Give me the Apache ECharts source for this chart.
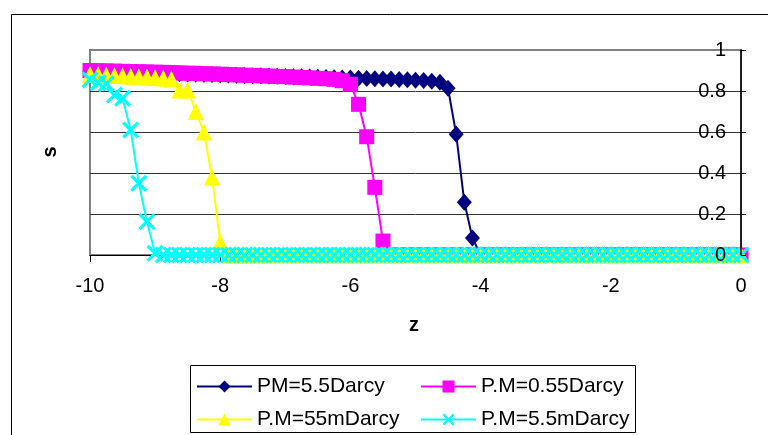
<!DOCTYPE html>
<html>
<head>
<meta charset="utf-8">
<script src="https://cdn.jsdelivr.net/npm/echarts@6/dist/echarts.min.js"></script>
<style>
html,body{margin:0;padding:0;background:#fff;}
#c{width:768px;height:435px;}
</style>
</head>
<body>
<div id="c"></div>
<script>
// z positions
var zValues = [
  -10,-9.875,-9.75,-9.625,-9.5,-9.375,-9.25,-9.125,-9,
  -8.875,-8.75,-8.625,-8.5,-8.375,-8.25,-8.125,-8,
  -7.875,-7.75,-7.625,-7.5,-7.375,-7.25,-7.125,-7,
  -6.875,-6.75,-6.625,-6.5,-6.375,-6.25,-6.125,-6,
  -5.875,-5.75,-5.625,-5.5,-5.375,-5.25,-5.125,-5,
  -4.875,-4.75,-4.625,-4.5,-4.375,-4.25,-4.125,-4,
  -3.875,-3.75,-3.625,-3.5,-3.375,-3.25,-3.125,-3,
  -2.875,-2.75,-2.625,-2.5,-2.375,-2.25,-2.125,-2,
  -1.875,-1.75,-1.625,-1.5,-1.375,-1.25,-1.125,-1,
  -0.875,-0.75,-0.625,-0.5,-0.375,-0.25,-0.125,0
];

var seriesNames = ['PM=5.5Darcy','P.M=0.55Darcy','P.M=55mDarcy','P.M=5.5mDarcy'];

var sPM55Darcy = [
  0.895,0.894,0.893,0.892,0.891,0.890,0.889,0.888,0.887,
  0.886,0.885,0.884,0.883,0.882,0.881,0.880,0.879,
  0.878,0.877,0.876,0.875,0.874,0.873,0.872,0.871,
  0.870,0.869,0.868,0.867,0.866,0.865,0.864,0.863,
  0.862,0.861,0.860,0.859,0.858,0.856,0.855,0.853,
  0.851,0.848,0.843,0.813,0.589,0.257,0.083,0,
  0,0,0,0,0,0,0,0,
  0,0,0,0,0,0,0,0,
  0,0,0,0,0,0,0,0,
  0,0,0,0,0,0,0,0
];

var sPM055Darcy = [
  0.900,0.899,0.898,0.897,0.896,0.895,0.894,0.893,0.892,
  0.891,0.890,0.888,0.887,0.886,0.884,0.883,0.882,
  0.880,0.879,0.877,0.876,0.874,0.873,0.871,0.870,
  0.868,0.866,0.864,0.862,0.860,0.857,0.850,0.833,
  0.735,0.577,0.330,0.068,0,0,0,0,
  0,0,0,0,0,0,0,0,
  0,0,0,0,0,0,0,0,
  0,0,0,0,0,0,0,0,
  0,0,0,0,0,0,0,0,
  0,0,0,0,0,0,0,0
];

var sPM55mDarcy = [
  0.882,0.880,0.878,0.876,0.874,0.872,0.870,0.868,0.866,
  0.863,0.858,0.805,0.805,0.700,0.600,0.380,0.065,
  0,0,0,0,0,0,0,0,
  0,0,0,0,0,0,0,0,
  0,0,0,0,0,0,0,0,
  0,0,0,0,0,0,0,0,
  0,0,0,0,0,0,0,0,
  0,0,0,0,0,0,0,0,
  0,0,0,0,0,0,0,0,
  0,0,0,0,0,0,0,0
];

var sPM55mDarcyB = [
  0.855,0.840,0.835,0.780,0.765,0.610,0.350,0.163,0.008,
  0,0,0,0,0,0,0,0,
  0,0,0,0,0,0,0,0,
  0,0,0,0,0,0,0,0,
  0,0,0,0,0,0,0,0,
  0,0,0,0,0,0,0,0,
  0,0,0,0,0,0,0,0,
  0,0,0,0,0,0,0,0,
  0,0,0,0,0,0,0,0,
  0,0,0,0,0,0,0,0
];

var xTicks = [-10,-8,-6,-4,-2,0];
var yTicks = [0,0.2,0.4,0.6,0.8,1];

var FONT = 'Liberation Sans, Arial, sans-serif';

function pairs(ys){ return zValues.map(function(z,i){ return [z, ys[i]]; }); }

var crossPath = 'path://M0,1.3L1.3,0L5,3.7L8.7,0L10,1.3L6.3,5L10,8.7L8.7,10L5,6.3L1.3,10L0,8.7L3.7,5Z';

var seriesDefs = [
  {name: seriesNames[0], data: sPM55Darcy, color: '#000080', symbol: 'diamond', size: [15,17]},
  {name: seriesNames[1], data: sPM055Darcy, color: '#FF00FF', symbol: 'rect', size: 15},
  {name: seriesNames[2], data: sPM55mDarcy, color: '#FFFF00', symbol: 'triangle', size: [16,17]},
  {name: seriesNames[3], data: sPM55mDarcyB, color: '#00FFFF', symbol: crossPath, size: 17}
];

var chart = echarts.init(document.getElementById('c'), null, {renderer: 'canvas'});

var legendPos = [
  {left: 196, top: 376},
  {left: 420, top: 376},
  {left: 196, top: 409},
  {left: 420, top: 409}
];

var yAxisBase = {
  type: 'value', position: 'right', min: yTicks[0], max: yTicks[yTicks.length-1], interval: 0.2
};

chart.setOption({
  animation: false,
  backgroundColor: '#fff',
  grid: {
    left: 90, right: 27, top: 50, bottom: 180,
    show: true, borderColor: '#808080', borderWidth: 2, backgroundColor: 'transparent'
  },
  xAxis: {
    type: 'value', min: xTicks[0], max: xTicks[xTicks.length-1], interval: 2,
    axisLine: {show: true, onZero: false, lineStyle: {color: '#000', width: 1}},
    axisTick: {show: true, inside: false, length: 7, lineStyle: {color: '#000'}},
    axisLabel: {color: '#000', fontSize: 20, fontFamily: FONT, margin: 21},
    splitLine: {show: false}
  },
  yAxis: [
    Object.assign({}, yAxisBase, {
      z: 0,
      axisLine: {show: false}, axisTick: {show: false}, axisLabel: {show: false},
      splitLine: {show: true, showMaxLine: false, showMinLine: false, lineStyle: {color: '#333', width: 1}}
    }),
    Object.assign({}, yAxisBase, {
      z: 10,
      axisLine: {show: true, lineStyle: {color: '#000', width: 1.5}},
      axisTick: {show: true, inside: false, length: 5, lineStyle: {color: '#000'}},
      axisLabel: {inside: true, color: '#000', fontSize: 20, fontFamily: FONT, margin: 15},
      splitLine: {show: false}
    })
  ],
  legend: seriesDefs.map(function(s, i){
    return {
      data: [s.name], left: legendPos[i].left, top: legendPos[i].top,
      orient: 'horizontal', padding: 0, itemWidth: 55, itemHeight: 15, itemGap: 0,
      textStyle: {color: '#000', fontSize: 21, fontFamily: FONT},
      selectedMode: false
    };
  }),
  series: seriesDefs.map(function(s){
    return {
      name: s.name, type: 'line', data: pairs(s.data), yAxisIndex: 0,
      symbol: s.symbol, symbolSize: s.size, showAllSymbol: true,
      lineStyle: {color: s.color, width: 2},
      itemStyle: {color: s.color},
      clip: false
    };
  }),
  graphic: [
    {type: 'rect', shape: {x: 11.5, y: 14.5, width: 900, height: 600},
     style: {fill: 'none', stroke: '#000', lineWidth: 1}, silent: true, z: -1},
    {type: 'rect', shape: {x: 190.5, y: 365.5, width: 445, height: 67},
     style: {fill: 'none', stroke: '#000', lineWidth: 1}, silent: true},
    {type: 'text', x: 414, y: 325,
     style: {text: 'z', font: 'bold 20px ' + FONT, fill: '#000', textAlign: 'center', textVerticalAlign: 'middle'}},
    {type: 'text', x: 50, y: 152, rotation: Math.PI/2,
     style: {text: 's', font: 'bold 20px ' + FONT, fill: '#000', textAlign: 'center', textVerticalAlign: 'middle'}}
  ]
});
</script>
</body>
</html>
